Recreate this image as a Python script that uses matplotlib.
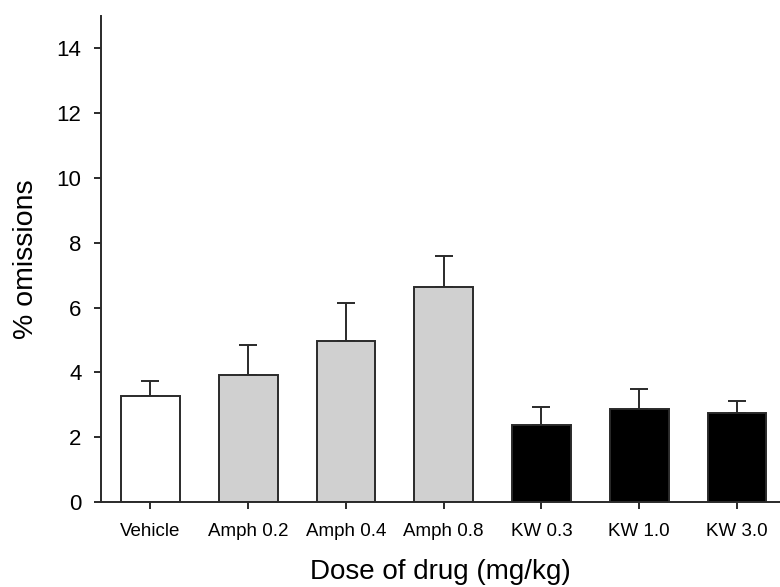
import matplotlib
matplotlib.use("Agg")
import matplotlib.pyplot as plt

# Data
groups = ["Vehicle", "Amph 0.2", "Amph 0.4", "Amph 0.8", "KW 0.3", "KW 1.0", "KW 3.0"]
omissions = [3.28, 3.93, 4.96, 6.64, 2.39, 2.88, 2.76]
sem = [0.46, 0.93, 1.17, 0.95, 0.53, 0.61, 0.37]
bar_colors = ["white", "#d0d0d0", "#d0d0d0", "#d0d0d0", "black", "black", "black"]
yticks = [0, 2, 4, 6, 8, 10, 12, 14]

plt.rcParams["font.family"] = ["Liberation Sans", "DejaVu Sans"]

fig = plt.figure(figsize=(7.8, 5.87), dpi=100)
ax = fig.add_axes([0.1295, 0.1448, 0.8705, 0.8279])

x = list(range(len(groups)))
edge = "#2a2a2a"
ax.bar(x, omissions, width=0.6, color=bar_colors, edgecolor=edge,
       linewidth=1.4, zorder=2)
ax.errorbar(x, omissions, yerr=[[0] * len(sem), sem], fmt="none",
            ecolor=edge, elinewidth=1.4, capsize=6.5, capthick=1.4, zorder=1)

ax.set_xlim(-0.506, 6.44)
ax.set_ylim(0, 15)
ax.set_xticks(x)
ax.set_xticklabels(groups, fontsize=13.5)
ax.set_yticks(yticks)
ax.tick_params(axis="y", labelsize=16, length=5, width=1.4, color=edge, pad=9)
ax.tick_params(axis="x", length=5, width=1.4, color=edge, pad=10)

for side in ["top", "right"]:
    ax.spines[side].set_visible(False)
for side in ["left", "bottom"]:
    ax.spines[side].set_linewidth(1.4)
    ax.spines[side].set_color(edge)

ax.set_xlabel("Dose of drug (mg/kg)", fontsize=20, labelpad=14)
ax.set_ylabel("% omissions", fontsize=20.5, labelpad=13)

fig.savefig("out.png", dpi=100)
